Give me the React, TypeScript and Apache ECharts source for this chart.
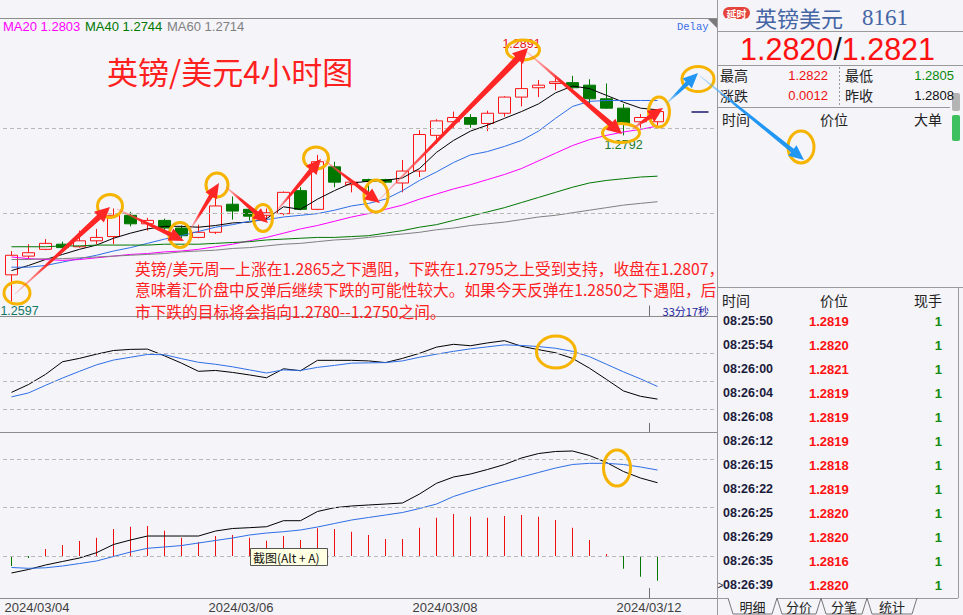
import React, { useEffect, useRef } from 'react';
import * as echarts from 'echarts';

const BG = '#f4f4f9';
const RED = '#ff1414';
const GREEN = '#007800';
const CJK = '"Noto Sans CJK SC", "Noto Sans", sans-serif';
const SANS = '"Liberation Sans", Arial, sans-serif';

// 42 candle slots (4h); the last three are empty future slots
const slotCount = 42;
const dateLabels = ['2024/03/04', '2024/03/06', '2024/03/08', '2024/03/12'];
// slot boundaries where each labelled day starts
const dateLabelSlots = [2, 14, 26, 38];
const currentDaySlot = 38;

// [open, close, low, high]
const candles = [
  [1.2628, 1.2651, 1.2597, 1.2656],
  [1.2650, 1.2654, 1.2646, 1.2664],
  [1.2658, 1.2665, 1.2657, 1.2670],
  [1.2664, 1.2660, 1.2657, 1.2667],
  [1.2661, 1.2668, 1.2660, 1.2680],
  [1.2668, 1.2672, 1.2664, 1.2682],
  [1.2673, 1.2698, 1.2664, 1.2706],
  [1.2698, 1.2688, 1.2685, 1.2702],
  [1.2688, 1.2692, 1.2680, 1.2695],
  [1.2692, 1.2683, 1.2680, 1.2694],
  [1.2683, 1.2674, 1.2671, 1.2686],
  [1.2672, 1.2678, 1.2671, 1.2687],
  [1.2678, 1.2709, 1.2676, 1.2720],
  [1.2711, 1.2703, 1.2693, 1.2720],
  [1.2705, 1.2697, 1.2692, 1.2709],
  [1.2698, 1.2701, 1.2693, 1.2706],
  [1.2700, 1.2725, 1.2698, 1.2726],
  [1.2727, 1.2705, 1.2704, 1.2731],
  [1.2705, 1.2761, 1.2704, 1.2769],
  [1.2755, 1.2737, 1.2731, 1.2761],
  [1.2734, 1.2737, 1.2725, 1.2738],
  [1.2740, 1.2738, 1.2724, 1.2741],
  [1.2740, 1.2737, 1.2736, 1.2741],
  [1.2736, 1.2750, 1.2725, 1.2763],
  [1.2750, 1.2793, 1.2743, 1.2798],
  [1.2792, 1.2809, 1.2782, 1.2811],
  [1.2808, 1.2813, 1.2801, 1.2820],
  [1.2813, 1.2805, 1.2801, 1.2817],
  [1.2806, 1.2818, 1.2797, 1.2821],
  [1.2818, 1.2837, 1.2814, 1.2838],
  [1.2837, 1.2847, 1.2826, 1.2891],
  [1.2848, 1.2851, 1.2837, 1.2857],
  [1.2853, 1.2855, 1.2845, 1.2862],
  [1.2854, 1.2848, 1.2847, 1.2862],
  [1.2851, 1.2835, 1.2829, 1.2858],
  [1.2835, 1.2824, 1.2823, 1.2853],
  [1.2824, 1.2805, 1.2792, 1.2829],
  [1.2808, 1.2813, 1.2801, 1.2817],
  [1.2808, 1.2820, 1.2800, 1.2820],
];

const ma5 = [1.2633, 1.2639, 1.2646, 1.2652, 1.2658, 1.2663, 1.2671, 1.2677, 1.2682, 1.2685, 1.2685, 1.2684, 1.2686, 1.2689, 1.2690, 1.2694, 1.2708, 1.2705, 1.2717, 1.2727, 1.2736, 1.2738, 1.2739, 1.2742, 1.2753, 1.2772, 1.2786, 1.2797, 1.2804, 1.2812, 1.2820, 1.2829, 1.2842, 1.2850, 1.2847, 1.2839, 1.2831, 1.2824, 1.2822];
const ma10 = [1.2637, 1.2637, 1.2639, 1.2643, 1.2647, 1.2651, 1.2656, 1.2660, 1.2665, 1.2670, 1.2674, 1.2679, 1.2684, 1.2687, 1.2691, 1.2693, 1.2696, 1.2698, 1.2700, 1.2704, 1.2709, 1.2712, 1.2717, 1.2727, 1.2739, 1.2749, 1.2760, 1.2769, 1.2773, 1.2779, 1.2786, 1.2797, 1.2812, 1.2826, 1.2832, 1.2833, 1.2833, 1.2833, 1.2833];
const ma20 = [1.2649, 1.2647, 1.2646, 1.2645, 1.2646, 1.2648, 1.2650, 1.2652, 1.2653, 1.2655, 1.2656, 1.2658, 1.2661, 1.2664, 1.2668, 1.2672, 1.2677, 1.2682, 1.2686, 1.2691, 1.2696, 1.2700, 1.2705, 1.2710, 1.2717, 1.2723, 1.2729, 1.2734, 1.2740, 1.2746, 1.2753, 1.2762, 1.2771, 1.2780, 1.2787, 1.2792, 1.2796, 1.2799, 1.2803];
const ma40 = [1.2661, 1.2661, 1.2661, 1.2662, 1.2662, 1.2663, 1.2663, 1.2663, 1.2663, 1.2664, 1.2664, 1.2664, 1.2665, 1.2666, 1.2667, 1.2669, 1.2670, 1.2671, 1.2672, 1.2672, 1.2673, 1.2674, 1.2677, 1.2680, 1.2684, 1.2687, 1.2692, 1.2697, 1.2702, 1.2707, 1.2713, 1.2719, 1.2725, 1.2731, 1.2736, 1.2739, 1.2741, 1.2743, 1.2744];
const ma60 = [1.2646, 1.2646, 1.2647, 1.2647, 1.2648, 1.2649, 1.2650, 1.2651, 1.2652, 1.2653, 1.2655, 1.2656, 1.2657, 1.2659, 1.2660, 1.2662, 1.2664, 1.2665, 1.2667, 1.2669, 1.2670, 1.2672, 1.2674, 1.2676, 1.2678, 1.2681, 1.2683, 1.2686, 1.2688, 1.2690, 1.2693, 1.2696, 1.2698, 1.2701, 1.2704, 1.2707, 1.2710, 1.2712, 1.2714];

// middle oscillator panel
const oscFast = [-0.41, -0.13, 0.23, 0.68, 0.80, 0.95, 1.08, 1.12, 1.13, 0.89, 0.63, 0.34, 0.37, 0.30, 0.21, 0.11, 0.43, 0.36, 0.73, 0.73, 0.73, 0.71, 0.65, 0.80, 0.98, 1.20, 1.30, 1.25, 1.35, 1.43, 1.23, 1.11, 1.00, 0.80, 0.45, 0.05, -0.36, -0.55, -0.65];
const oscSlow = [-0.57, -0.43, -0.16, 0.10, 0.34, 0.57, 0.74, 0.84, 0.94, 0.93, 0.79, 0.66, 0.59, 0.50, 0.39, 0.28, 0.39, 0.37, 0.48, 0.55, 0.63, 0.64, 0.65, 0.71, 0.84, 0.95, 1.05, 1.14, 1.21, 1.28, 1.26, 1.22, 1.16, 1.05, 0.86, 0.59, 0.32, 0.07, -0.20];

// MACD panel
const dif = [-0.35, -0.278, -0.186, -0.113, -0.041, 0.068, 0.237, 0.33, 0.412, 0.412, 0.412, 0.412, 0.515, 0.567, 0.584, 0.604, 0.728, 0.728, 0.918, 0.996, 1.031, 1.052, 1.072, 1.093, 1.278, 1.499, 1.629, 1.691, 1.784, 1.887, 2.021, 2.113, 2.155, 2.165, 2.072, 1.928, 1.742, 1.608, 1.511];
const dea = [-0.237, -0.254, -0.243, -0.206, -0.155, -0.103, -0.01, 0.082, 0.159, 0.186, 0.216, 0.268, 0.32, 0.371, 0.433, 0.474, 0.501, 0.536, 0.598, 0.67, 0.742, 0.794, 0.845, 0.897, 0.979, 1.072, 1.227, 1.34, 1.443, 1.536, 1.629, 1.722, 1.814, 1.887, 1.911, 1.911, 1.887, 1.835, 1.773];
const macd = [-0.206, -0.04, 0.144, 0.227, 0.309, 0.377, 0.557, 0.604, 0.619, 0.522, 0.377, 0.282, 0.412, 0.433, 0.377, 0.315, 0.412, 0.33, 0.571, 0.557, 0.501, 0.433, 0.351, 0.351, 0.584, 0.79, 0.866, 0.811, 0.79, 0.825, 0.845, 0.811, 0.742, 0.584, 0.33, 0.041, -0.261, -0.427, -0.509];

// quote panel
const quoteBid = '1.2820';
const quoteAsk = '1.2821';
const quoteHigh = '1.2822';
const quoteLow = '1.2805';
const quoteChange = '0.0012';
const quotePrevClose = '1.2808';
const tradeTimes = ['08:25:50', '08:25:54', '08:26:00', '08:26:04', '08:26:08', '08:26:12', '08:26:15', '08:26:22', '08:26:25', '08:26:29', '08:26:35', '08:26:39'];
const tradePrices = ['1.2819', '1.2820', '1.2821', '1.2819', '1.2819', '1.2819', '1.2818', '1.2819', '1.2820', '1.2820', '1.2816', '1.2820'];
const tradeQty = ['1', '1', '1', '1', '1', '1', '1', '1', '1', '1', '1', '1'];
const tabs = ['明细', '分价', '分笔', '统计'];

const noteLines = [
  '英镑/美元周一上涨在1.2865之下遇阻，下跌在1.2795之上受到支持，收盘在1.2807，',
  '意味着汇价盘中反弹后继续下跌的可能性较大。如果今天反弹在1.2850之下遇阻，后',
  '市下跌的目标将会指向1.2780--1.2750之间。',
];

const T = (x: number, y: number, text: string, font: string, fill: string, align = 'left', z = 50, extra: any = {}) => ({
  type: 'text', z, silent: true,
  style: { x, y, text, font, fill, textAlign: align, align, textVerticalAlign: 'middle', verticalAlign: 'middle', ...extra },
});
const L = (x1: number, y1: number, x2: number, y2: number, stroke = '#9a9a9a', lineWidth = 1, lineDash: any = null, z = 40) => ({
  type: 'line', z, silent: true, shape: { x1, y1, x2, y2 }, style: { stroke, lineWidth, lineDash },
});

function arrowEl(a: number[], color: string, pale: string) {
  const [x1, y1, x2, y2, w] = a;
  const dx = x2 - x1, dy = y2 - y1, len = Math.hypot(dx, dy);
  const ux = dx / len, uy = dy / len, nx = -uy, ny = ux;
  const hl = Math.min(15, len * 0.45), hw = w + 4.5;
  const bx = x2 - ux * hl, by = y2 - uy * hl;
  const t = 0.5;
  const pts = [
    [x1 + nx * t, y1 + ny * t], [bx + nx * w, by + ny * w], [bx + nx * hw, by + ny * hw], [x2, y2],
    [bx - nx * hw, by - ny * hw], [bx - nx * w, by - ny * w], [x1 - nx * t, y1 - ny * t],
  ];
  return {
    type: 'polygon', z: 101, silent: true, shape: { points: pts },
    style: { fill: { type: 'linear', x: x1, y: y1, x2, y2, global: true, colorStops: [{ offset: 0, color: pale }, { offset: 0.35, color }, { offset: 1, color }] } },
  };
}

// annotation shapes (pixel space, decorations)
const rings = [[17, 293, 13, 11], [110, 206, 12.5, 11.5], [180, 235, 11, 12.5], [217, 185, 11, 12], [263, 218, 9.5, 13.5], [316, 158, 12.5, 11], [376, 196, 12, 16], [523, 50, 16.5, 10], [621, 133, 18.5, 9.5], [659, 112, 10.5, 15], [698, 79, 16, 12.5], [801, 147, 13, 16], [556, 352, 19.5, 16], [617, 468, 13.5, 18]];
const redArrows = [[15, 294, 110, 207, 2.8], [117, 209, 184, 241, 2.2], [190, 230, 219, 183, 2.2], [226, 187, 268, 223, 2.2], [274, 214, 321, 159, 2.5], [324, 160, 380, 203, 2.2], [378, 201, 528, 48, 3.2], [527, 52, 622, 134, 2.8], [632, 129, 663, 108, 2.2]];
const blueArrows = [[666, 104, 698, 73, 2.2], [700, 76, 804, 160, 2.2]];

function buildOption() {
  const cats = Array.from({ length: slotCount }, (_, k) => String(k));
  const bounds = Array.from({ length: slotCount + 1 }, (_, k) => String(k));
  const last = candles.length - 1;
  const highs = candles.map((c) => c[3]);
  const lows = candles.map((c) => c[2]);
  const hiIdx = highs.indexOf(Math.max(...highs));
  const loIdx = lows.indexOf(Math.min(...lows));
  let postLo = hiIdx + 1;
  for (let k = hiIdx + 1; k < lows.length; k++) if (lows[k] < lows[postLo]) postLo = k;
  const lastClose = candles[last][1];

  const gridBase = { left: 3, width: 714, show: false };
  const xAx = (gi: number) => ({
    type: 'category', gridIndex: gi, data: cats, boundaryGap: true, show: false,
    axisLine: { show: false, onZero: false },
  });
  const xBound = (gi: number, tickLen: number, labels = false) => ({
    type: 'category', gridIndex: gi, data: bounds, boundaryGap: false, position: 'bottom',
    axisLine: { show: false, onZero: false },
    axisTick: { show: true, inside: true, length: tickLen, interval: (i: number) => i === currentDaySlot, lineStyle: { color: '#707070' } },
    splitLine: { show: false },
    axisLabel: labels ? {
      show: true, margin: 3, fontSize: 13, color: '#404040', fontFamily: SANS,
      interval: (i: number) => dateLabelSlots.indexOf(i) >= 0,
      formatter: (_v: string, i: number) => { const k = dateLabelSlots.indexOf(i); return k >= 0 ? dateLabels[k] : ''; },
    } : { show: false },
  });
  const dashed = { type: [4, 3], color: '#b8b8b8', width: 1 };
  const ml = (vals: number[]) => ({ silent: true, symbol: ['none', 'none'], label: { show: false }, lineStyle: dashed, data: vals.map((v) => ({ yAxis: v })) });
  const line = (name: string, data: number[], color: string, xi: number, extra: any = {}) => ({
    name, type: 'line', xAxisIndex: xi, yAxisIndex: xi, data, symbol: 'none', silent: true,
    lineStyle: { color, width: 1 }, itemStyle: { color }, ...extra,
  });

  const g: any[] = [];
  // panel frames
  g.push(L(0, 18.5, 717, 18.5, '#8c8c8c'));
  g.push(L(0, 316.5, 717, 316.5, '#8c8c8c'));
  g.push(L(0, 432.5, 717, 432.5, '#8c8c8c'));
  g.push(L(0, 598.5, 717, 598.5, '#8c8c8c'));

  // legend
  g.push(T(3, 26, `MA20 ${ma20[last].toFixed(4)}`, `13px ${SANS}`, '#ff00ff'));
  g.push(T(85, 26, `MA40 ${ma40[last].toFixed(4)}`, `13px ${SANS}`, '#007700'));
  g.push(T(167, 26, `MA60 ${ma60[last].toFixed(4)}`, `13px ${SANS}`, '#808080'));
  g.push(T(107, 70, '英镑/美元4小时图', `31px ${CJK}`, '#ff2020', 'left', 102));
  g.push(T(677, 27, 'Delay', `10.5px "Liberation Mono", monospace`, '#3a6ee8'));
  g.push({ type: 'polygon', z: 40, silent: true, shape: { points: [[708, 19], [717, 19], [717, 28]] }, style: { fill: '#7a7a7a' } });
  g.push(T(709, 311, '33分17秒', `11px ${CJK}`, '#1c1c9c', 'right', 50, { lineHeight: 12 }));

  // right panel frame
  g.push(L(717.5, 0, 717.5, 615));
  g.push(L(717, 31.5, 963, 31.5));
  g.push(L(717, 65.5, 963, 65.5));
  g.push(L(717, 107.5, 950, 107.5));
  g.push(L(839.5, 67, 839.5, 105, '#9a9a9a', 1, [2, 2]));
  g.push(L(717, 287.5, 963, 287.5));
  g.push(L(958.5, 287, 958.5, 598));
  g.push(L(717, 598.5, 728, 598.5));
  g.push(L(777, 598.5, 958, 598.5));

  g.push({ type: 'rect', z: 45, silent: true, shape: { x: 723, y: 7, width: 27, height: 12, r: 6 }, style: { fill: '#e4443c' } });
  g.push(T(736.5, 13.5, '延时', `bold 10px ${CJK}`, '#ffffff', 'center', 46, { lineHeight: 10 }));
  g.push(T(755, 16.5, '英镑美元', `22px ${CJK}`, '#4565a5', 'left', 50, { lineHeight: 20 }));
  g.push(T(862, 17, '8161', `23px "Liberation Serif", serif`, '#4565a5', 'left', 50, { lineHeight: 20 }));
  g.push({
    type: 'text', z: 50, silent: true,
    style: {
      x: 740, y: 49, text: `{r|${quoteBid}}{k|/}{r|${quoteAsk}}`, textVerticalAlign: 'middle', verticalAlign: 'middle',
      rich: { r: { fill: '#ff1010', fontSize: 30.5, fontFamily: SANS, lineHeight: 24 }, k: { fill: '#111111', fontSize: 30.5, fontFamily: SANS, lineHeight: 24 } },
    },
  });
  const lh = { lineHeight: 15 };
  g.push(T(720, 75, '最高', `14px ${CJK}`, '#222222', 'left', 50, lh));
  g.push(T(828, 75, quoteHigh, `13px ${SANS}`, '#ee1111', 'right', 50, lh));
  g.push(T(845, 75, '最低', `14px ${CJK}`, '#222222', 'left', 50, lh));
  g.push(T(954, 75, quoteLow, `13px ${SANS}`, '#0a8a0a', 'right', 50, lh));
  g.push(T(720, 95, '涨跌', `14px ${CJK}`, '#222222', 'left', 50, lh));
  g.push(T(828, 95, quoteChange, `13px ${SANS}`, '#ee1111', 'right', 50, lh));
  g.push(T(845, 95, '昨收', `14px ${CJK}`, '#222222', 'left', 50, lh));
  g.push(T(954, 95, quotePrevClose, `13px ${SANS}`, '#111111', 'right', 50, lh));
  g.push(T(722, 118.5, '时间', `14px ${CJK}`, '#222222', 'left', 50, lh));
  g.push(T(820, 118.5, '价位', `14px ${CJK}`, '#222222', 'left', 50, lh));
  g.push(T(914, 118.5, '大单', `14px ${CJK}`, '#222222', 'left', 50, lh));
  g.push({ type: 'rect', z: 45, silent: true, shape: { x: 952, y: 93, width: 8, height: 18, r: 2 }, style: { fill: '#b4b4b4' } });
  g.push({ type: 'rect', z: 45, silent: true, shape: { x: 952, y: 115, width: 8, height: 26, r: 2 }, style: { fill: '#3cc060' } });

  g.push(T(722, 300, '时间', `14px ${CJK}`, '#222222', 'left', 50, lh));
  g.push(T(820, 300, '价位', `14px ${CJK}`, '#222222', 'left', 50, lh));
  g.push(T(914, 300, '现手', `14px ${CJK}`, '#222222', 'left', 50, lh));
  tradeTimes.forEach((tm, k) => {
    const y = 321 + 24 * k;
    g.push(T(723, y, tm, `bold 12.5px ${SANS}`, '#1c1c3c', 'left', 50, lh));
    g.push(T(809, y, tradePrices[k], `bold 13px ${SANS}`, '#ff1010', 'left', 50, lh));
    g.push(T(942, y, tradeQty[k], `bold 13px ${SANS}`, '#138a13', 'right', 50, lh));
  });
  g.push(T(717.5, 321 + 24 * (tradeTimes.length - 1), '>', `10px ${SANS}`, '#1c1c3c', 'left', 50, { lineHeight: 10 }));
  const tabX = [[728, 777], [777, 821], [821, 867], [867, 917]];
  tabs.forEach((tb, k) => {
    const [a, b] = tabX[k];
    g.push({ type: 'polyline', z: 40, silent: true, shape: { points: [[a, 598], [a + 5, 614], [b - 5, 614], [b, 598]] }, style: { stroke: '#777777', lineWidth: 1, fill: null } });
    g.push(T((a + b) / 2, 606.5, tb, `13px ${CJK}`, '#222222', 'center', 50, { lineHeight: 14 }));
  });

  // screenshot hint box
  g.push({ type: 'rect', z: 60, silent: true, shape: { x: 250.5, y: 548.5, width: 77, height: 17 }, style: { fill: '#ffffe1', stroke: '#555555', lineWidth: 1 } });
  g.push(T(253, 557, '截图(Alt + A)', `12px ${CJK}`, '#111111', 'left', 61, { lineHeight: 13 }));

  // annotations
  rings.forEach(([cx, cy, rx, ry]) => g.push({ type: 'ellipse', z: 100, silent: true, shape: { cx, cy, rx, ry }, style: { stroke: '#f6b400', lineWidth: 3, fill: null } }));
  redArrows.forEach((a) => g.push(arrowEl(a, '#ff2626', 'rgba(255,120,120,0.35)')));
  blueArrows.forEach((a) => g.push(arrowEl(a, '#2196f3', 'rgba(120,190,250,0.35)')));
  noteLines.forEach((s, k) => g.push(T(135, 268 + 21.5 * k, s, `15.7px ${CJK}`, '#ff2222', 'left', 102, { lineHeight: 16 })));

  return {
    animation: false,
    backgroundColor: BG,
    grid: [
      { ...gridBase, top: 18, height: 298.5 },
      { ...gridBase, top: 316.5, height: 115.5 },
      { ...gridBase, top: 432, height: 166 },
    ],
    xAxis: [xAx(0), xAx(1), xAx(2), xBound(0, 11), xBound(1, 9), xBound(2, 10, true)],
    yAxis: [
      { type: 'value', gridIndex: 0, min: 1.2579, max: 1.2930, show: false },
      { type: 'value', gridIndex: 1, min: -1.82, max: 2.29, show: false },
      { type: 'value', gridIndex: 2, min: -0.866, max: 2.557, show: false },
    ],
    series: [
      {
        type: 'candlestick', xAxisIndex: 0, yAxisIndex: 0, data: candles, barWidth: 13, silent: true,
        itemStyle: { color: 'rgba(0,0,0,0)', color0: GREEN, borderColor: RED, borderColor0: GREEN, borderWidth: 1 },
        markLine: {
          silent: true, symbol: ['none', 'none'], label: { show: false }, lineStyle: dashed,
          data: [
            { yAxis: 1.27 }, { yAxis: 1.28 },
            [
              { coord: [40, lastClose], lineStyle: { type: 'solid', color: '#1a1a70', width: 1.5 } },
              { coord: [41, lastClose], lineStyle: { type: 'solid', color: '#1a1a70', width: 1.5 } },
            ],
          ],
        },
        markPoint: {
          symbol: 'circle', symbolSize: 0.1, silent: true, itemStyle: { color: 'rgba(0,0,0,0)' },
          label: { show: true, fontSize: 12.5, fontFamily: SANS, formatter: (p: any) => Number(p.value).toFixed(4) },
          data: [
            { coord: [hiIdx, highs[hiIdx]], value: highs[hiIdx], label: { position: 'top', distance: 1, color: '#ee1111' } },
            { coord: [postLo, lows[postLo]], value: lows[postLo], label: { position: 'bottom', distance: 3, color: '#1e7a2a' } },
            { coord: [loIdx, lows[loIdx]], value: lows[loIdx], label: { position: 'bottom', distance: 3, color: '#117766', offset: [8, 0] } },
          ],
        },
      },
      line('MA5', ma5, '#000000', 0),
      line('MA10', ma10, '#2f6ee6', 0),
      line('MA20', ma20, '#ff00ff', 0),
      line('MA40', ma40, '#007700', 0),
      line('MA60', ma60, '#808080', 0),
      line('oscFast', oscFast, '#000000', 1, { markLine: ml([-1, 0, 1]) }),
      line('oscSlow', oscSlow, '#2f6ee6', 1),
      {
        type: 'bar', xAxisIndex: 2, yAxisIndex: 2, barWidth: 1, silent: true,
        data: macd.map((v) => ({ value: v, itemStyle: { color: v >= 0 ? '#ee1010' : '#007800' } })),
        markLine: ml([0, 1, 2]),
      },
      line('DIF', dif, '#000000', 2),
      line('DEA', dea, '#2f6ee6', 2),
    ],
    graphic: { elements: g },
  };
}

export default function App() {
  const ref = useRef<HTMLDivElement>(null);
  useEffect(() => {
    const chart = echarts.init(ref.current as HTMLDivElement, null, { renderer: 'svg', width: 963, height: 615 });
    chart.setOption(buildOption() as any);
    return () => chart.dispose();
  }, []);
  return <div ref={ref} style={{ position: 'fixed', left: 0, top: 0, width: 963, height: 615, background: BG }} />;
}
